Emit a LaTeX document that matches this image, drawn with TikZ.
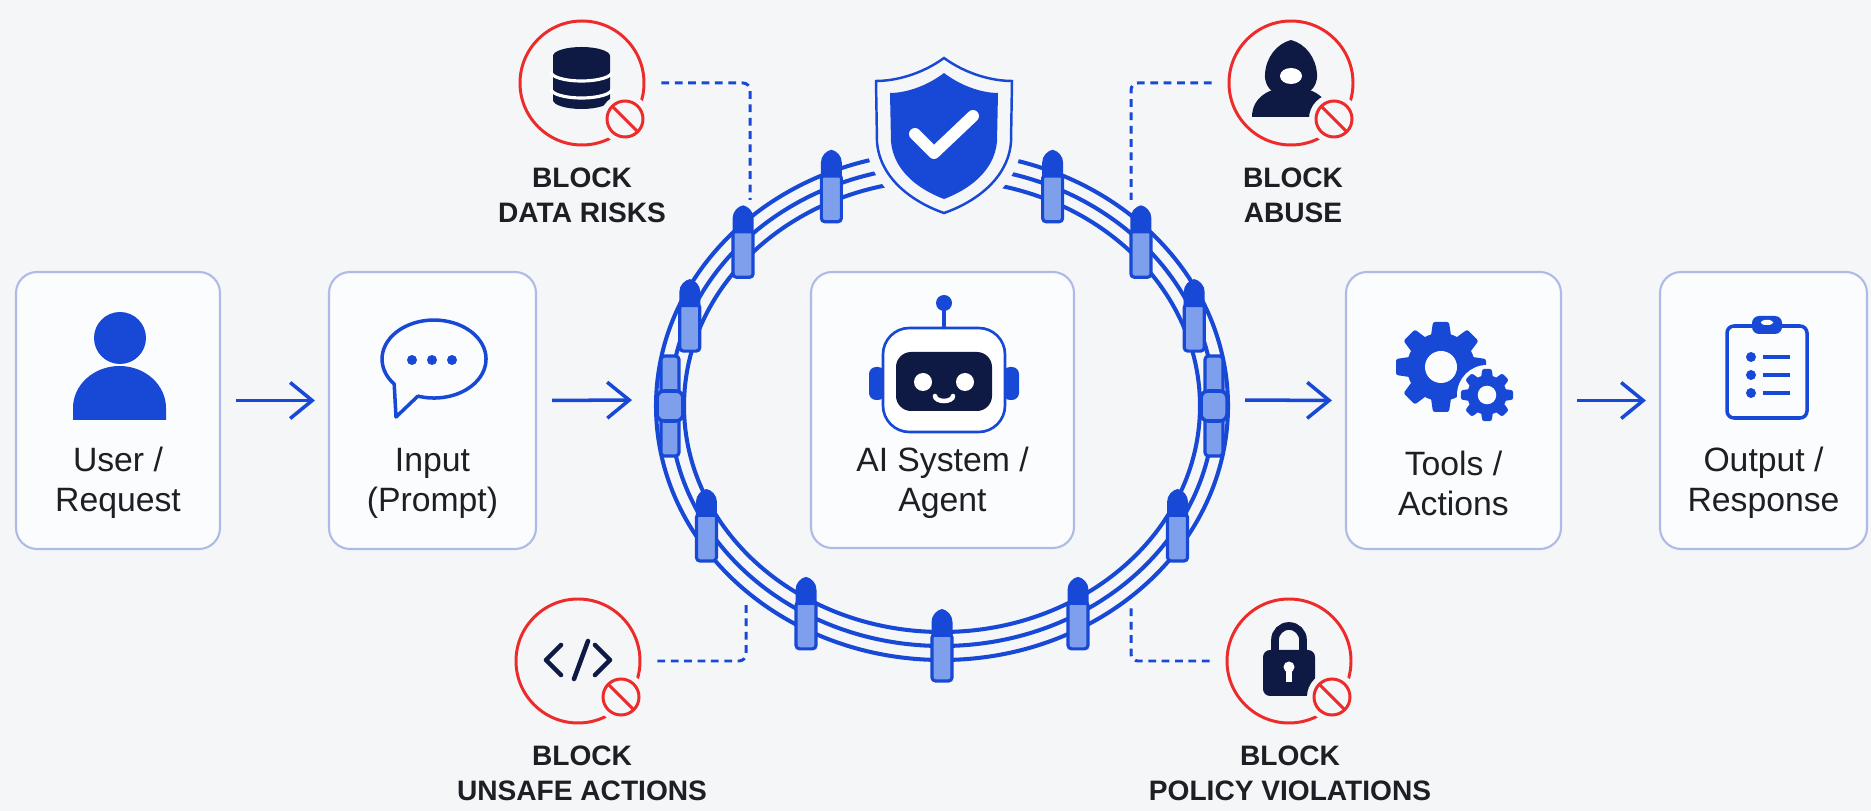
\documentclass[tikz,border=0pt]{standalone}
\usepackage{fontspec}
\setmainfont{Liberation Sans}
\usetikzlibrary{arrows.meta,positioning,calc}
\definecolor{grBg}{HTML}{F5F6F8}
\definecolor{grCard}{HTML}{FBFCFE}
\definecolor{grCardLine}{HTML}{ADBBE6}
\definecolor{grBlue}{HTML}{1849D6}
\definecolor{grPost}{HTML}{7EA0EC}
\definecolor{grNavy}{HTML}{0F1A44}
\definecolor{grRed}{HTML}{EE2B2B}
\definecolor{grText}{HTML}{1E1F24}
\tikzset{
  gr/card/.style={draw=grCardLine, fill=grCard, line width=0.6pt,
    rounded corners=6pt, inner sep=0pt},
  gr/caption/.style={font=\fontsize{9.6}{11.4}\selectfont, text=grText,
    align=center},
  gr/blocktext/.style={font=\fontsize{8}{10}\selectfont\bfseries,
    text=grText, align=center},
  gr/flow/.style={-{Straight Barb[length=2.2mm,width=3.6mm]}, draw=grBlue,
    line width=1pt, shorten <=1.5mm, shorten >=1.3mm},
  gr/rail/.style={draw=grBlue, line width=1.15pt},
  gr/postbody/.style={draw=grBlue, fill=grPost, line width=0.9pt,
    rounded corners=1pt},
  gr/tap/.style={draw=grBlue, line width=0.85pt,
    dash pattern=on 2.2pt off 1.6pt, rounded corners=2pt, shorten <=1.6mm},
  gr/ring/.style={circle, draw=grRed, line width=0.85pt,
    minimum size=12.4mm, inner sep=0pt},
  gr/icon/.style={line width=1pt, line cap=round, line join=round},
  % fence post with a rounded cap
  gr/post/.pic={
    \draw[gr/postbody] (-10,-12) rectangle (10,35);
    \fill[grBlue] (-10.5,-9) -- (-10.5,-24)
      .. controls (-10.5,-31) and (-5,-36) .. (0,-37)
      .. controls (5,-36) and (10.5,-31) .. (10.5,-24) -- (10.5,-9) -- cycle;
  },
  % side post where the rails are clamped
  gr/clamp/.pic={
    \draw[gr/postbody] (-9,-50) rectangle (9,50);
    \draw[gr/postbody, line width=1pt, rounded corners=2pt]
      (-13,-15) rectangle (13,15);
  },
  gr/gear/.pic={
    \fill[grBlue] (0,0) circle (34);
    \foreach \t in {0,45,...,315}
      \fill[grBlue, rotate=\t, rounded corners=0.6pt]
        (-10.5,-28) -- (-8,-45) -- (8,-45) -- (10.5,-28) -- cycle;
    \fill[grCard] (0,0) circle (16);
  },
  % small "no entry" badge
  gr/ban/.pic={
    \fill[grBg] (0,0) circle (25);
    \draw[grRed, line width=0.85pt, fill=grBg] (0,0) circle (18);
    \draw[grRed, line width=0.85pt] (-13,-13) -- (13,13);
  },
}

\begin{document}
\begin{tikzpicture}[x=0.1mm, y=-0.1mm]
\useasboundingbox (0,0) rectangle (1871,811);
\fill[grBg] (0,0) rectangle (1871,811);

% pipeline cards
\node[gr/card, minimum width=20.4mm, minimum height=27.7mm] (user) at (118,410.5) {};
\node[gr/card, minimum width=20.7mm, minimum height=27.7mm] (input) at (432.5,410.5) {};
\node[gr/card, minimum width=26.3mm, minimum height=27.6mm] (agent) at (942.5,410) {};
\node[gr/card, minimum width=21.5mm, minimum height=27.7mm] (tools) at (1453.5,410.5) {};
\node[gr/card, minimum width=20.7mm, minimum height=27.7mm] (output) at (1763.5,410.5) {};

\node[gr/caption] (usertxt) at (118,483) {User /\\Request};
\node[gr/caption] (inputtxt) at (432.5,483) {Input\\(Prompt)};
\node[gr/caption] (agenttxt) at (942.5,483) {AI System /\\Agent};
\node[gr/caption] (toolstxt) at (1453.5,483) {Tools /\\Actions};
\node[gr/caption] (outputtxt) at (1763.5,483) {Output /\\Response};

% user
\fill[grBlue] (120,338) circle (26);
\fill[grBlue] (73,420) -- (73,408) arc[start angle=180, end angle=360, x radius=46.5, y radius=42] -- (166,420) -- cycle;

% prompt bubble
\draw[grBlue, gr/icon] (417.9,396.1) -- (396,417) -- (394.2,384.1)
  arc[start angle=140, end angle=468, x radius=52, y radius=39];
\foreach \x in {412,432,452}
  \fill[grBlue] (\x,360) circle (5);

% robot
\fill[grBlue] (944,303) circle (8);
\draw[grBlue, line width=1pt] (944,310) -- (944,328);
\fill[grBlue, rounded corners=2pt] (869,367) rectangle (885,400);
\fill[grBlue, rounded corners=2pt] (1003,367) rectangle (1019,400);
\draw[grBlue, line width=0.75pt, fill=white, rounded corners=7.5pt] (883,328) rectangle (1005,432);
\fill[grNavy, rounded corners=4.3pt] (896,352) rectangle (992,411);
\fill[white] (923,382) circle (9);
\fill[white] (965,382) circle (9);
\draw[white, line width=1.3pt, line cap=round] (935,396) arc[start angle=180, end angle=0, x radius=9, y radius=5];

% gears
\pic at (1441,367) {gr/gear};
\fill[grCard] (1487,395) circle (30);
\pic[scale=0.58] at (1487,395) {gr/gear};

% clipboard
\draw[grBlue, line width=1pt, rounded corners=2pt] (1727,326) rectangle (1807,418);
\fill[grBlue, rounded corners=2pt] (1752,316) rectangle (1782,334);
\fill[white, rounded corners=1pt] (1761,320) rectangle (1773,325);
\foreach \y in {357,375,393} {
  \fill[grBlue] (1751,\y) circle (5);
  \draw[grBlue, line width=1pt] (1763,\y) -- (1790,\y);
}

% fence around the agent
\foreach \rx/\ry in {258/226,272/240,286/254}
  \draw[gr/rail] (942,406) ellipse [x radius=\rx, y radius=\ry];
\foreach \a in {22,43,66,114,137,158,210,240,270,300,330}
  \pic at ({942+272*cos(\a)},{406-240*sin(\a)}) {gr/post};
\pic at (670,406) {gr/clamp};
\pic at (1214,406) {gr/clamp};

% shield on top of the fence
\path[fill=grBg, draw=grBg, line width=2.2mm]
  (944,58) .. controls (922,74) and (896,81) .. (876,81) -- (877,142)
  .. controls (880,180) and (915,203) .. (944,213)
  .. controls (973,203) and (1008,180) .. (1011,142) -- (1012,81)
  .. controls (992,81) and (966,74) .. (944,58) -- cycle;
\draw[grBlue, line width=0.7pt]
  (944,58) .. controls (922,74) and (896,81) .. (876,81) -- (877,142)
  .. controls (880,180) and (915,203) .. (944,213)
  .. controls (973,203) and (1008,180) .. (1011,142) -- (1012,81)
  .. controls (992,81) and (966,74) .. (944,58) -- cycle;
\fill[grBlue]
  (944,73) .. controls (927,86) and (906,93) .. (890,93) -- (891,142)
  .. controls (894,172) and (920,190) .. (944,199)
  .. controls (968,190) and (994,172) .. (997,142) -- (998,93)
  .. controls (982,93) and (961,86) .. (944,73) -- cycle;
\draw[white, line width=3.4pt, line cap=round, line join=round]
  (915,134) -- (934,153) -- (973,116);

% main flow
\coordinate (ringW) at (645,400);
\coordinate (ringE) at (1230,400);
\draw[gr/flow] ([yshift=1mm]user.east) -- ([yshift=1mm]input.west);
\draw[gr/flow] ([yshift=1mm]input.east) -- (ringW);
\draw[gr/flow] (ringE) -- ([yshift=1mm]tools.west);
\draw[gr/flow] ([yshift=1mm]tools.east) -- ([yshift=1mm]output.west);

% blocked threats
\node[gr/ring] (datarisk) at (582,83) {};
\node[gr/ring] (abuse) at (1291,83) {};
\node[gr/ring] (unsafe) at (578,661) {};
\node[gr/ring] (policy) at (1289,661) {};

\node[gr/blocktext] (datarisktxt) at (582,195) {BLOCK\\DATA RISKS};
\node[gr/blocktext] (abusetxt) at (1293,195) {BLOCK\\ABUSE};
\node[gr/blocktext] (unsafetxt) at (582,773) {BLOCK\\UNSAFE ACTIONS};
\node[gr/blocktext] (policytxt) at (1290,773) {BLOCK\\POLICY VIOLATIONS};

% database
\fill[grNavy] (553,56) -- (553,100) arc[start angle=180, end angle=0, x radius=28.5, y radius=9]
  -- (610,56) arc[start angle=0, end angle=-180, x radius=28.5, y radius=9] -- cycle;
\foreach \y in {72,89}
  \draw[white, line width=0.9pt] (551,\y) arc[start angle=180, end angle=0, x radius=30.5, y radius=9];

% hooded figure
\fill[grNavy] (1252,117) .. controls (1252,97) and (1270,87) .. (1291,87)
  .. controls (1312,87) and (1330,97) .. (1330,117) -- cycle;
\fill[grNavy] (1291,40) .. controls (1306,44) and (1316,58) .. (1317,74)
  .. controls (1318,90) and (1305,97) .. (1291,97)
  .. controls (1277,97) and (1264,90) .. (1265,74)
  .. controls (1266,58) and (1276,44) .. (1291,40) -- cycle;
\fill[white] (1291,76) ellipse [x radius=11, y radius=8];

% code brackets
\draw[grNavy, gr/icon, line width=1.3pt] (561,645) -- (546,660) -- (561,675);
\draw[grNavy, gr/icon, line width=1.3pt] (574,679) -- (588,641);
\draw[grNavy, gr/icon, line width=1.3pt] (595,645) -- (610,660) -- (595,675);

% padlock
\draw[grNavy, line width=2.2pt] (1275,652) -- (1275,640) arc[start angle=180, end angle=360, radius=14] -- (1303,652);
\fill[grNavy, rounded corners=2pt] (1263,650) rectangle (1315,696);
\fill[white] (1289,667) circle (5.5);
\fill[white] (1286,667) rectangle (1292,682);

\foreach \n in {datarisk,abuse,unsafe,policy}
  \pic at ([shift={(43,36)}]\n.center) {gr/ban};

% taps from the fence
\coordinate (tapNW) at (750,200);
\coordinate (tapNE) at (1131,200);
\coordinate (tapSW) at (746,605);
\coordinate (tapSE) at (1131,605);
\draw[gr/tap] (datarisk.east) -| (tapNW);
\draw[gr/tap] (abuse.west) -| (tapNE);
\draw[gr/tap] (unsafe.east) -| (tapSW);
\draw[gr/tap] (policy.west) -| (tapSE);
\end{tikzpicture}
\end{document}
